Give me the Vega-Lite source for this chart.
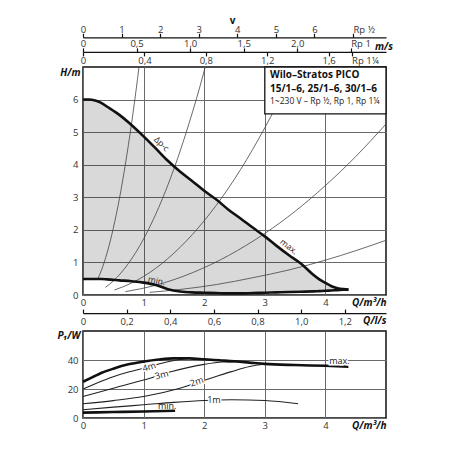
{
  "$schema": "https://vega.github.io/schema/vega-lite/v6.json",
  "padding": {"left": 56, "top": 14, "right": 5, "bottom": 5},
  "background": "white",
  "bounds": "flush",
  "spacing": 36,
  "datasets": {
    "env": [
      {"Q": 0, "H": 6.0, "H2": 0.49}, {"Q": 0.1, "H": 6.0, "H2": 0.49}, {"Q": 0.2, "H": 5.97, "H2": 0.49},
      {"Q": 0.3, "H": 5.9, "H2": 0.49}, {"Q": 0.4, "H": 5.78, "H2": 0.48}, {"Q": 0.6, "H": 5.53, "H2": 0.45},
      {"Q": 0.8, "H": 5.22, "H2": 0.42}, {"Q": 1.0, "H": 4.87, "H2": 0.38}, {"Q": 1.2, "H": 4.5, "H2": 0.31},
      {"Q": 1.4, "H": 4.12, "H2": 0.18}, {"Q": 1.6, "H": 3.79, "H2": 0.11}, {"Q": 1.8, "H": 3.5, "H2": 0.08},
      {"Q": 2.0, "H": 3.2, "H2": 0.07}, {"Q": 2.2, "H": 2.93, "H2": 0.06}, {"Q": 2.4, "H": 2.62, "H2": 0.05},
      {"Q": 2.6, "H": 2.35, "H2": 0.05}, {"Q": 2.8, "H": 2.07, "H2": 0.06}, {"Q": 3.0, "H": 1.8, "H2": 0.07},
      {"Q": 3.2, "H": 1.5, "H2": 0.08}, {"Q": 3.4, "H": 1.22, "H2": 0.09}, {"Q": 3.6, "H": 0.96, "H2": 0.1},
      {"Q": 3.8, "H": 0.62, "H2": 0.11}, {"Q": 3.9, "H": 0.48, "H2": 0.12}, {"Q": 4.0, "H": 0.37, "H2": 0.13},
      {"Q": 4.1, "H": 0.27, "H2": 0.14}, {"Q": 4.2, "H": 0.21, "H2": 0.15}, {"Q": 4.3, "H": 0.18, "H2": 0.16},
      {"Q": 4.38, "H": 0.165, "H2": 0.165}
    ],
    "sys": [
      {"c": "a", "Q": 0.245, "H": 0.49}, {"c": "a", "Q": 0.3, "H": 0.74}, {"c": "a", "Q": 0.4, "H": 1.31},
      {"c": "a", "Q": 0.5, "H": 2.05}, {"c": "a", "Q": 0.6, "H": 2.95}, {"c": "a", "Q": 0.7, "H": 4.02},
      {"c": "a", "Q": 0.8, "H": 5.25}, {"c": "a", "Q": 0.9, "H": 6.64}, {"c": "a", "Q": 0.924, "H": 7.0},
      {"c": "b", "Q": 0.37, "H": 0.235}, {"c": "b", "Q": 0.5, "H": 0.43}, {"c": "b", "Q": 0.75, "H": 0.97},
      {"c": "b", "Q": 1.0, "H": 1.72}, {"c": "b", "Q": 1.25, "H": 2.69}, {"c": "b", "Q": 1.5, "H": 3.87},
      {"c": "b", "Q": 1.75, "H": 5.27}, {"c": "b", "Q": 2.0, "H": 6.88}, {"c": "b", "Q": 2.017, "H": 7.0},
      {"c": "c", "Q": 0.52, "H": 0.154}, {"c": "c", "Q": 0.8, "H": 0.365}, {"c": "c", "Q": 1.2, "H": 0.82},
      {"c": "c", "Q": 1.6, "H": 1.46}, {"c": "c", "Q": 2.0, "H": 2.28}, {"c": "c", "Q": 2.4, "H": 3.28},
      {"c": "c", "Q": 2.8, "H": 4.47}, {"c": "c", "Q": 3.2, "H": 5.84}, {"c": "c", "Q": 3.5, "H": 6.98},
      {"c": "d", "Q": 0.7, "H": 0.103}, {"c": "d", "Q": 1.2, "H": 0.3}, {"c": "d", "Q": 1.8, "H": 0.68},
      {"c": "d", "Q": 2.4, "H": 1.21}, {"c": "d", "Q": 3.0, "H": 1.89}, {"c": "d", "Q": 3.5, "H": 2.57},
      {"c": "d", "Q": 4.0, "H": 3.36}, {"c": "d", "Q": 4.5, "H": 4.25}, {"c": "d", "Q": 5.0, "H": 5.25},
      {"c": "e", "Q": 1.1, "H": 0.081}, {"c": "e", "Q": 1.6, "H": 0.17}, {"c": "e", "Q": 2.2, "H": 0.32},
      {"c": "e", "Q": 2.8, "H": 0.53}, {"c": "e", "Q": 3.4, "H": 0.77}, {"c": "e", "Q": 4.0, "H": 1.07},
      {"c": "e", "Q": 4.5, "H": 1.36}, {"c": "e", "Q": 5.0, "H": 1.68}
    ],
    "pw": [
      {"c": "max", "Q": 0, "P": 25}, {"c": "max", "Q": 0.15, "P": 28}, {"c": "max", "Q": 0.3, "P": 31},
      {"c": "max", "Q": 0.5, "P": 34}, {"c": "max", "Q": 0.75, "P": 37}, {"c": "max", "Q": 1.0, "P": 38.9},
      {"c": "max", "Q": 1.25, "P": 40.3}, {"c": "max", "Q": 1.5, "P": 41.1}, {"c": "max", "Q": 1.75, "P": 41.1},
      {"c": "max", "Q": 2.0, "P": 40.5}, {"c": "max", "Q": 2.25, "P": 39.8}, {"c": "max", "Q": 2.5, "P": 39.1},
      {"c": "max", "Q": 2.75, "P": 38.2}, {"c": "max", "Q": 3.0, "P": 37.3}, {"c": "max", "Q": 3.5, "P": 36.5},
      {"c": "max", "Q": 4.0, "P": 36.0}, {"c": "max", "Q": 4.38, "P": 35.4},
      {"c": "min", "Q": 0, "P": 3.7}, {"c": "min", "Q": 0.5, "P": 4.1}, {"c": "min", "Q": 1.0, "P": 4.5}, {"c": "min", "Q": 1.52, "P": 5.0},
      {"c": "4m", "Q": 0, "P": 20}, {"c": "4m", "Q": 0.25, "P": 24.5}, {"c": "4m", "Q": 0.5, "P": 28.5},
      {"c": "4m", "Q": 0.75, "P": 31.7}, {"c": "4m", "Q": 1.0, "P": 34.3}, {"c": "4m", "Q": 1.25, "P": 37.3},
      {"c": "4m", "Q": 1.5, "P": 39.6}, {"c": "4m", "Q": 1.75, "P": 41.0},
      {"c": "3m", "Q": 0, "P": 14.8}, {"c": "3m", "Q": 0.5, "P": 20.5}, {"c": "3m", "Q": 1.0, "P": 26.2},
      {"c": "3m", "Q": 1.45, "P": 31.9}, {"c": "3m", "Q": 2.0, "P": 37}, {"c": "3m", "Q": 2.3, "P": 38.6},
      {"c": "3m", "Q": 2.55, "P": 38.9},
      {"c": "2m", "Q": 0, "P": 9.8}, {"c": "2m", "Q": 0.5, "P": 12}, {"c": "2m", "Q": 1.0, "P": 14.8},
      {"c": "2m", "Q": 1.6, "P": 20.5}, {"c": "2m", "Q": 2.05, "P": 26.7}, {"c": "2m", "Q": 2.45, "P": 32},
      {"c": "2m", "Q": 2.75, "P": 35.5}, {"c": "2m", "Q": 3.0, "P": 37.2},
      {"c": "1m", "Q": 0, "P": 5.7}, {"c": "1m", "Q": 0.5, "P": 7.5}, {"c": "1m", "Q": 1.0, "P": 9.1},
      {"c": "1m", "Q": 1.5, "P": 10.8}, {"c": "1m", "Q": 2.0, "P": 12.1}, {"c": "1m", "Q": 2.45, "P": 12.6},
      {"c": "1m", "Q": 3.0, "P": 12.1}, {"c": "1m", "Q": 3.55, "P": 9.8}
    ],
    "anchor": [{"Q": 0, "H": 0}, {"Q": 5, "H": 0}]
  },
  "vconcat": [
    {
      "width": 303,
      "height": 228,
      "resolve": {"axis": {"x": "independent"}},
      "encoding": {
        "y": {"field": "H", "type": "quantitative", "scale": {"domain": [0, 7], "nice": false},
          "axis": {"values": [0, 1, 2, 3, 4, 5, 6], "grid": true, "domain": false, "ticks": false, "tickSize": 0, "labelPadding": 5,
            "title": "H/m", "titleAngle": 0, "titleX": -3, "titleY": 5, "titleAlign": "right", "titleBaseline": "middle"}}
      },
      "layer": [
        {
          "data": {"name": "env"},
          "mark": {"type": "area", "fill": "#000", "fillOpacity": 0.15, "interpolate": "monotone"},
          "encoding": {
            "x": {"field": "Q", "type": "quantitative", "scale": {"domain": [0, 5], "nice": false},
              "axis": {"orient": "bottom", "values": [0, 1, 2, 3, 4], "grid": true, "domain": false, "ticks": false, "tickSize": 0, "labelPadding": 7,
                "title": "Q/m³/h", "titleX": 303, "titleY": 7, "titleAlign": "right", "titleBaseline": "middle"}},
            "y2": {"field": "H2"}
          }
        },
        {
          "data": {"name": "sys"},
          "mark": {"type": "line", "color": "#444", "strokeWidth": 0.8, "interpolate": "monotone", "clip": true},
          "encoding": {
            "x": {"field": "Q", "type": "quantitative", "axis": null},
            "detail": {"field": "c"}
          }
        },
        {
          "data": {"name": "env"},
          "mark": {"type": "line", "color": "#111", "strokeWidth": 2.6, "interpolate": "monotone"},
          "encoding": {
            "x": {"field": "Q", "type": "quantitative", "axis": null}
          }
        },
        {
          "data": {"name": "env"},
          "mark": {"type": "line", "color": "#111", "strokeWidth": 2.6, "interpolate": "monotone"},
          "encoding": {
            "x": {"field": "Q", "type": "quantitative", "axis": null},
            "y": {"field": "H2", "type": "quantitative", "scale": {"domain": [0, 7], "nice": false},
              "axis": {"values": [0, 1, 2, 3, 4, 5, 6], "grid": true, "domain": false, "ticks": false, "tickSize": 0, "labelPadding": 5,
                "title": "H/m", "titleAngle": 0, "titleX": -3, "titleY": 5, "titleAlign": "right", "titleBaseline": "middle"}}
          }
        },
        {
          "data": {"values": [{"Q": 3.0, "Q2": 5.0, "H": 5.56, "H2": 7.0}]},
          "mark": {"type": "rect", "fill": "white", "stroke": "#111", "strokeWidth": 1.3},
          "encoding": {
            "x": {"field": "Q", "type": "quantitative", "axis": null},
            "x2": {"field": "Q2"},
            "y2": {"field": "H2"}
          }
        },
        {
          "data": {"values": [{"Q": 3.086, "H": 6.74, "t": "Wilo–Stratos PICO"}, {"Q": 3.086, "H": 6.33, "t": "15/1–6, 25/1–6, 30/1–6"}]},
          "mark": {"type": "text", "align": "left", "baseline": "middle", "fontSize": 10, "fontWeight": "bold", "color": "#111"},
          "encoding": {
            "x": {"field": "Q", "type": "quantitative", "axis": null},
            "text": {"field": "t"}
          }
        },
        {
          "data": {"values": [{"Q": 3.086, "H": 5.95, "t": "1~230 V – Rp ½, Rp 1, Rp 1¼"}]},
          "mark": {"type": "text", "align": "left", "baseline": "middle", "fontSize": 8.5, "color": "#222"},
          "encoding": {
            "x": {"field": "Q", "type": "quantitative", "axis": null},
            "text": {"field": "t"}
          }
        },
        {
          "data": {"values": [{"Q": 1.3, "H": 4.64, "t": "Δp-c"}]},
          "mark": {"type": "text", "angle": 44, "baseline": "middle", "fontSize": 8.5, "color": "#222"},
          "encoding": {
            "x": {"field": "Q", "type": "quantitative", "axis": null},
            "text": {"field": "t"}
          }
        },
        {
          "data": {"values": [{"Q": 3.4, "H": 1.49, "t": "max."}]},
          "mark": {"type": "text", "angle": 38, "baseline": "middle", "fontSize": 8.5, "color": "#222"},
          "encoding": {
            "x": {"field": "Q", "type": "quantitative", "axis": null},
            "text": {"field": "t"}
          }
        },
        {
          "data": {"values": [{"Q": 1.216, "H": 0.44, "t": "min."}]},
          "mark": {"type": "text", "angle": 12, "baseline": "middle", "fontSize": 8.5, "color": "#222"},
          "encoding": {
            "x": {"field": "Q", "type": "quantitative", "axis": null},
            "text": {"field": "t"}
          }
        },
        {
          "data": {"name": "anchor"},
          "mark": {"type": "point", "opacity": 0},
          "encoding": {
            "x": {"field": "Q", "type": "quantitative",
              "axis": {"orient": "top", "offset": 29.7, "values": [0, 0.63647, 1.27294, 1.90941, 2.54588, 3.18235, 3.81882, 4.45529],
                "labelExpr": "datum.value > 4.4 ? 'Rp ½' : format(datum.value / 0.63647, '.0f')",
                "labelAlign": {"condition": {"test": "datum.value > 4.4", "value": "left"}, "value": "center"},
                "tickSize": 4, "labelPadding": 3.7, "grid": false, "domain": true,
                "title": "v", "titleFontStyle": "normal", "titleX": 149, "titleY": -17.2, "titleAlign": "center", "titleBaseline": "middle"}}
          }
        },
        {
          "data": {"name": "anchor"},
          "mark": {"type": "point", "opacity": 0},
          "encoding": {
            "x": {"field": "Q", "type": "quantitative",
              "axis": {"orient": "top", "offset": 15.1, "values": [0, 0.88366, 1.76733, 2.65099, 3.53465, 4.41832],
                "labelExpr": "datum.value == 0 ? '0' : datum.value > 4.4 ? 'Rp 1' : replace(format(datum.value / 1.76733, '.1f'), '.', ',')",
                "labelAlign": {"condition": {"test": "datum.value > 4.4", "value": "left"}, "value": "center"},
                "tickSize": 4, "labelPadding": 4.3, "grid": false, "domain": true,
                "title": "m/s", "titleX": 300.5, "titleY": -5.6, "titleAlign": "center", "titleBaseline": "middle"}}
          }
        },
        {
          "data": {"name": "anchor"},
          "mark": {"type": "point", "opacity": 0},
          "encoding": {
            "x": {"field": "Q", "type": "quantitative",
              "axis": {"orient": "top", "offset": 15.1, "values": [0, 1.0132, 2.0264, 3.0396, 4.0528, 4.43275],
                "labelExpr": "datum.value == 0 ? '0' : datum.value > 4.4 ? 'Rp 1¼' : replace(format(datum.value / 2.533, '.1f'), '.', ',')",
                "labelAlign": {"condition": {"test": "datum.value > 4.4", "value": "left"}, "value": "center"},
                "tickSize": -4, "labelPadding": -4.7, "grid": false, "domain": false, "title": null}}
          }
        },
        {
          "data": {"name": "anchor"},
          "mark": {"type": "point", "opacity": 0},
          "encoding": {
            "x": {"field": "Q", "type": "quantitative",
              "axis": {"orient": "bottom", "offset": 18.1, "values": [0, 0.72, 1.44, 2.16, 2.88, 3.6, 4.32],
                "labelExpr": "datum.value == 0 ? '0' : replace(format(datum.value / 3.6, '.1f'), '.', ',')",
                "tickSize": -4, "labelPadding": 12.5, "grid": false, "domain": true,
                "title": "Q/l/s", "titleX": 303, "titleY": 7.5, "titleAlign": "right", "titleBaseline": "middle"}}
          }
        }
      ]
    },
    {
      "width": 303,
      "height": 87,
      "encoding": {
        "x": {"field": "Q", "type": "quantitative", "scale": {"domain": [0, 5], "nice": false},
          "axis": {"orient": "bottom", "values": [0, 1, 2, 3, 4], "grid": true, "domain": false, "ticks": false, "tickSize": 0, "labelPadding": 7,
            "title": "Q/m³/h", "titleX": 303, "titleY": 7, "titleAlign": "right", "titleBaseline": "middle"}},
        "y": {"field": "P", "type": "quantitative", "scale": {"domain": [0, 60], "nice": false},
          "axis": {"values": [0, 20, 40], "grid": true, "domain": false, "ticks": false, "tickSize": 0, "labelPadding": 5,
            "title": "P₁/W", "titleAngle": 0, "titleX": -3, "titleY": 4, "titleAlign": "right", "titleBaseline": "middle"}}
      },
      "layer": [
        {
          "data": {"name": "pw"},
          "transform": [{"filter": "datum.c != 'max' && datum.c != 'min'"}],
          "mark": {"type": "line", "color": "#222", "strokeWidth": 1.1, "interpolate": "monotone"},
          "encoding": {"detail": {"field": "c"}}
        },
        {
          "data": {"name": "pw"},
          "transform": [{"filter": "datum.c == 'max' || datum.c == 'min'"}],
          "mark": {"type": "line", "color": "#111", "strokeWidth": 2.6, "interpolate": "monotone"},
          "encoding": {"detail": {"field": "c"}}
        },
        {
          "data": {"values": [{"Q": 1.09, "P": 35.3, "t": "4m"}]},
          "mark": {"type": "text", "angle": -17, "baseline": "middle", "fontSize": 9, "color": "white", "stroke": "white", "strokeWidth": 3},
          "encoding": {"text": {"field": "t"}}
        },
        {
          "data": {"values": [{"Q": 1.09, "P": 35.3, "t": "4m"}]},
          "mark": {"type": "text", "angle": -17, "baseline": "middle", "fontSize": 9, "color": "#222"},
          "encoding": {"text": {"field": "t"}}
        },
        {
          "data": {"values": [{"Q": 1.3, "P": 29.7, "t": "3m"}]},
          "mark": {"type": "text", "angle": -15, "baseline": "middle", "fontSize": 9, "color": "white", "stroke": "white", "strokeWidth": 3},
          "encoding": {"text": {"field": "t"}}
        },
        {
          "data": {"values": [{"Q": 1.3, "P": 29.7, "t": "3m"}]},
          "mark": {"type": "text", "angle": -15, "baseline": "middle", "fontSize": 9, "color": "#222"},
          "encoding": {"text": {"field": "t"}}
        },
        {
          "data": {"values": [{"Q": 1.876, "P": 25.1, "t": "2m"}]},
          "mark": {"type": "text", "angle": -19, "baseline": "middle", "fontSize": 9, "color": "white", "stroke": "white", "strokeWidth": 3},
          "encoding": {"text": {"field": "t"}}
        },
        {
          "data": {"values": [{"Q": 1.876, "P": 25.1, "t": "2m"}]},
          "mark": {"type": "text", "angle": -19, "baseline": "middle", "fontSize": 9, "color": "#222"},
          "encoding": {"text": {"field": "t"}}
        },
        {
          "data": {"values": [{"Q": 2.16, "P": 12.5, "t": "1m"}, {"Q": 4.23, "P": 39.5, "t": "max."}]},
          "mark": {"type": "text", "baseline": "middle", "fontSize": 9, "color": "white", "stroke": "white", "strokeWidth": 3},
          "encoding": {"text": {"field": "t"}}
        },
        {
          "data": {"values": [{"Q": 2.16, "P": 12.5, "t": "1m"}, {"Q": 4.23, "P": 39.5, "t": "max."}, {"Q": 1.39, "P": 8.4, "t": "min."}]},
          "mark": {"type": "text", "baseline": "middle", "fontSize": 9, "color": "#222"},
          "encoding": {"text": {"field": "t"}}
        }
      ]
    }
  ],
  "config": {
    "font": "Open Sans",
    "view": {"stroke": "#111", "strokeWidth": 1.5},
    "axis": {
      "labelFont": "Open Sans", "labelFontSize": 9.5, "labelColor": "#333", "labelFlush": false, "labelBaseline": "middle", "labelAngle": 0,
      "titleFont": "Open Sans", "titleFontSize": 10, "titleFontWeight": "bold", "titleFontStyle": "italic", "titleColor": "#111",
      "gridColor": "#6a6a6a", "gridWidth": 1, "gridOpacity": 1,
      "domainColor": "#111", "domainWidth": 1.2, "tickColor": "#111", "tickWidth": 1.2
    },
    "text": {"font": "Open Sans"}
  }
}
